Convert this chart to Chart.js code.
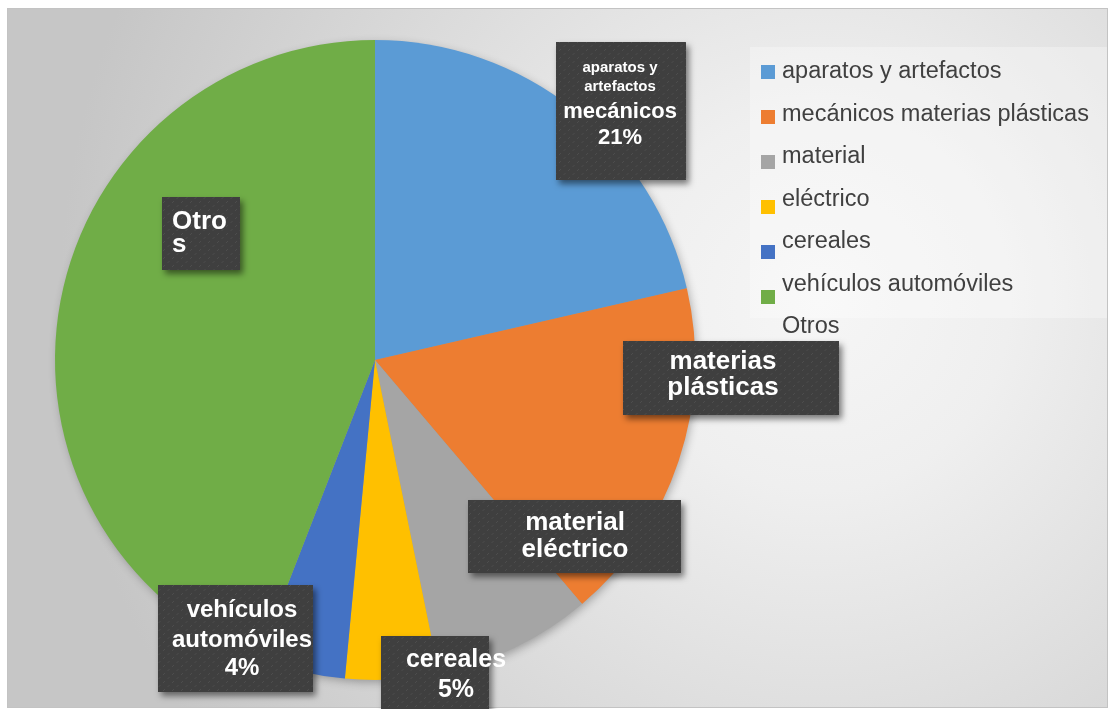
<!DOCTYPE html>
<html>
<head>
<meta charset="utf-8">
<script src="https://cdn.jsdelivr.net/npm/chart.js@4.4.1/dist/chart.umd.min.js"></script>
<style>
  html, body { margin: 0; padding: 0; background: #fff; }
  canvas { display: block; }
</style>
</head>
<body>
<canvas id="pieExports" width="1109" height="709"></canvas>
<script>
// slices (percent of total), clockwise from 12 o'clock
var categories = ["aparatos y artefactos mecánicos", "materias plásticas", "material eléctrico", "cereales", "vehículos automóviles", "Otros"];
var values = [21.4, 17.4, 8.0, 4.7, 4.4, 44.1];
var sliceColors = ['#5b9bd5', '#ed7d31', '#a5a5a5', '#ffc000', '#4472c4', '#70ad47'];

// legend as shown in the original (split differently from the slices, last one has no marker)
var legendLabels = ["aparatos y artefactos", "mecánicos materias plásticas", "material", "eléctrico", "cereales", "vehículos automóviles", "Otros"];

// data label text, and which labels also show the percentage
var labelLines = [["aparatos y", "artefactos", "mecánicos"], ["materias", "plásticas"], ["material", "eléctrico"], ["cereales"], ["vehículos", "automóviles"], ["Otro", "s"]];
var showPct = [true, false, false, true, true, false];

// where each dark label box sits, relative to the pie centre (px)
var labelLayout = [
  { box: [181, -318, 130, 138], tx: 245, ys: [-292, -273, -248, -222], sizes: [15, 15, 22, 22], align: 'center' },
  { box: [248, -19, 216, 74], tx: 348, ys: [2, 28], sizes: [26, 26], align: 'center' },
  { box: [93, 140, 213, 73], tx: 200, ys: [163, 190], sizes: [26, 26], align: 'center' },
  { box: [6, 276, 108, 80], tx: 81, ys: [300, 330], sizes: [25, 25], align: 'center' },
  { box: [-217, 225, 155, 107], tx: -133, ys: [250, 280, 308], sizes: [24, 24, 24], align: 'center' },
  { box: [-213, -163, 78, 73], tx: -203, ys: [-138, -115], sizes: [26, 26], align: 'left' }
];

var FONT = "'Liberation Sans', Arial, sans-serif";

// dotted dark texture used by the label boxes
var patCanvas = document.createElement('canvas');
patCanvas.width = 9; patCanvas.height = 8;
var pctx = patCanvas.getContext('2d');
pctx.fillStyle = '#3f3f3f';
pctx.fillRect(0, 0, 9, 8);
pctx.strokeStyle = '#4d4d4d';
pctx.lineWidth = 1;
pctx.beginPath(); pctx.moveTo(1, 3); pctx.lineTo(3, 1); pctx.stroke();
pctx.beginPath(); pctx.moveTo(5.5, 7); pctx.lineTo(7.5, 5); pctx.stroke();

var backgroundPlugin = {
  id: 'backgroundPlugin',
  beforeDraw: function (chart) {
    var ctx = chart.ctx;
    ctx.save();
    ctx.fillStyle = '#ffffff';
    ctx.fillRect(0, 0, chart.width, chart.height);
    var g = ctx.createRadialGradient(820, 300, 0, 820, 300, 760);
    g.addColorStop(0, '#f6f6f6');
    g.addColorStop(0.25, '#efefef');
    g.addColorStop(1, '#c6c6c6');
    ctx.fillStyle = g;
    ctx.fillRect(7, 8, 1101, 700);
    ctx.strokeStyle = '#c3c3c3';
    ctx.lineWidth = 1;
    ctx.strokeRect(7.5, 8.5, 1100, 699);
    ctx.restore();
  },
  beforeDatasetsDraw: function (chart) {
    // soft shadow under the whole pie
    var arc = chart.getDatasetMeta(0).data[0];
    var ctx = chart.ctx;
    ctx.save();
    ctx.shadowColor = 'rgba(0,0,0,0.3)';
    ctx.shadowBlur = 10;
    ctx.shadowOffsetX = 2;
    ctx.shadowOffsetY = 3;
    ctx.fillStyle = '#999';
    ctx.beginPath();
    ctx.arc(arc.x, arc.y, arc.outerRadius - 1, 0, Math.PI * 2);
    ctx.fill();
    ctx.restore();
  }
};

var labelPlugin = {
  id: 'labelPlugin',
  afterDatasetsDraw: function (chart) {
    var ctx = chart.ctx;
    var arc0 = chart.getDatasetMeta(0).data[0];
    var cx = arc0.x, cy = arc0.y;
    var total = values.reduce(function (a, b) { return a + b; }, 0);
    var pattern = ctx.createPattern(patCanvas, 'repeat');
    labelLayout.forEach(function (L, i) {
      ctx.save();
      ctx.shadowColor = 'rgba(0,0,0,0.5)';
      ctx.shadowBlur = 6;
      ctx.shadowOffsetX = 3;
      ctx.shadowOffsetY = 4;
      ctx.fillStyle = pattern;
      ctx.fillRect(cx + L.box[0], cy + L.box[1], L.box[2], L.box[3]);
      ctx.restore();

      var lines = labelLines[i].slice();
      if (showPct[i]) lines.push(Math.round(values[i] / total * 100) + '%');
      ctx.save();
      ctx.fillStyle = '#ffffff';
      ctx.textAlign = L.align;
      ctx.textBaseline = 'middle';
      lines.forEach(function (t, k) {
        ctx.font = 'bold ' + L.sizes[k] + 'px ' + FONT;
        ctx.fillText(t, cx + L.tx, cy + L.ys[k]);
      });
      ctx.restore();
    });
  }
};

var legendPlugin = {
  id: 'legendPlugin',
  afterDraw: function (chart) {
    var ctx = chart.ctx;
    ctx.save();
    ctx.fillStyle = 'rgba(255,255,255,0.3)';
    ctx.fillRect(750, 47, 357, 271);
    ctx.font = '23.5px ' + FONT;
    ctx.textBaseline = 'middle';
    ctx.textAlign = 'left';
    legendLabels.forEach(function (name, i) {
      if (i < sliceColors.length) {
        ctx.fillStyle = sliceColors[i];
        ctx.fillRect(761, 65 + i * 45, 14, 14);
      }
      ctx.fillStyle = '#404040';
      ctx.fillText(name, 782, 72 + i * 42.5);
    });
    ctx.restore();
  }
};

var pieExports = document.getElementById("pieExports");
var pieExportsConfig = {
  type: 'pie',
  data: {
    labels: categories,
    datasets: [{
      data: values,
      backgroundColor: sliceColors,
      borderWidth: 0,
      hoverOffset: 0
    }]
  },
  options: {
    responsive: false,
    animation: false,
    layout: {
      padding: { left: 55, right: 414, top: 40, bottom: 29 }
    },
    plugins: {
      legend: { display: false },
      tooltip: { enabled: false }
    }
  },
  plugins: [backgroundPlugin, labelPlugin, legendPlugin]
};
var pieExportsObj = new Chart(pieExports, pieExportsConfig);
</script>
</body>
</html>
